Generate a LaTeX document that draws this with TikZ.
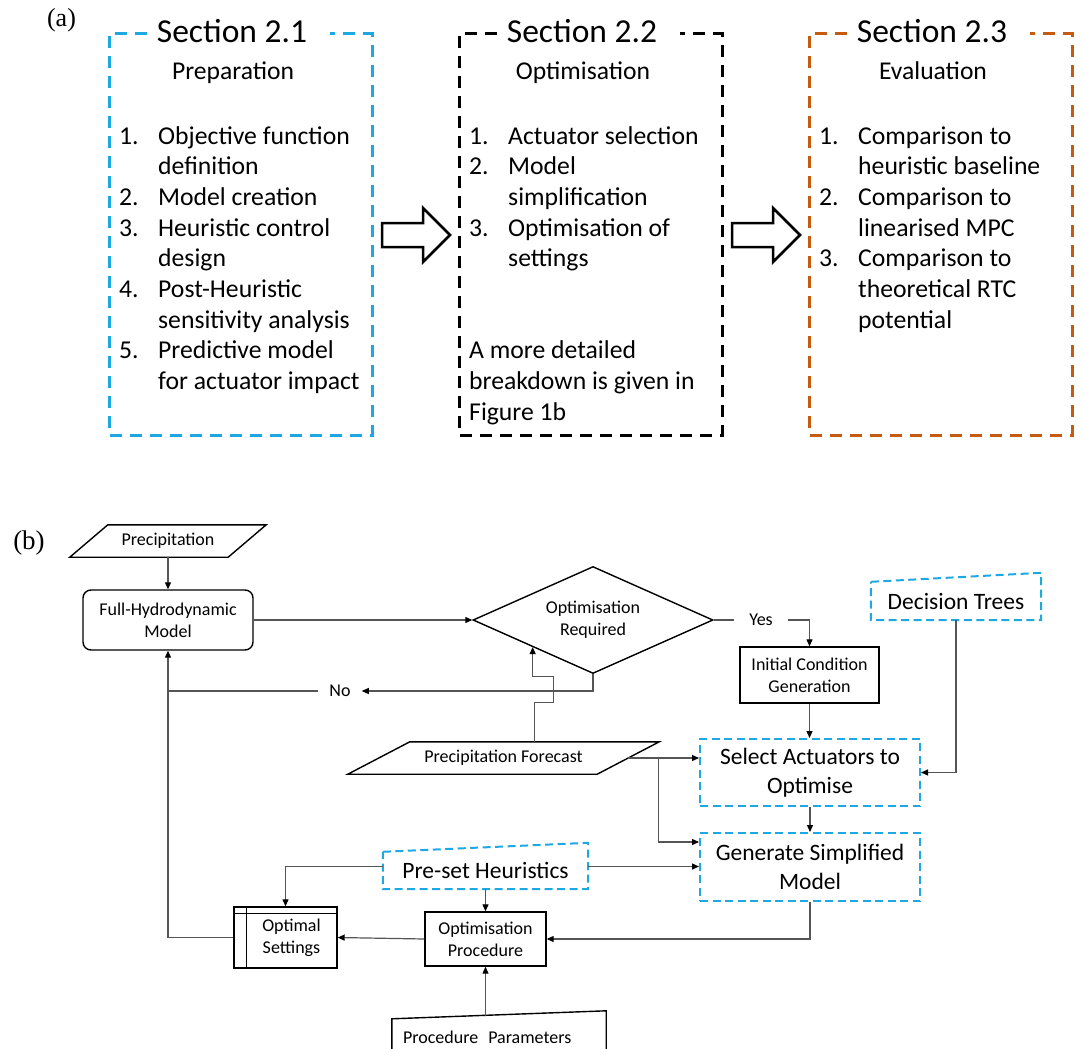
\documentclass[tikz,border=0pt]{standalone}
\usepackage{fontspec}
\setmainfont{Carlito}
\newfontfamily\labelfont{Liberation Serif}
\usetikzlibrary{shapes.geometric,arrows.meta}
\definecolor{secblue}{RGB}{30,168,226}
\definecolor{secorange}{RGB}{197,90,17}
\definecolor{lnk}{RGB}{85,85,85}
\tikzset{
  small/.style={font=\fontsize{18}{22}\selectfont},
  large/.style={font=\fontsize{23.5}{29}\selectfont},
  txt/.style={inner sep=0pt,align=center},
  outl/.style={draw=black,line width=1.4pt},
  plain/.style={txt,outl,small},
  bluedash/.style={draw=secblue,line width=2pt,dash pattern=on 8pt off 4.5pt},
  bluebox/.style={txt,bluedash,large},
  link/.style={draw=lnk,line width=1.2pt},
  conn/.style={link,-{Triangle[length=7pt,width=6pt,color=black]}},
  secline/.style={line width=3pt,dash pattern=on 12pt off 8pt},
  sectitle/.style={inner sep=0pt,anchor=base,font=\fontsize{33.5}{36}\selectfont},
  secsub/.style={inner sep=0pt,anchor=base,font=\fontsize{25.6}{30}\selectfont},
  seclist/.style={inner sep=0pt,anchor=base west,font=\fontsize{25.7}{30.7}\selectfont},
  blockarrow/.style={draw=black,line width=2.5pt,fill=white,line join=miter},
}
\begin{document}
\begin{tikzpicture}[x=1pt,y=-1pt]
\path[use as bounding box] (0,0) rectangle (1084,1049);
\node[font=\labelfont\fontsize{26}{30}\selectfont] (lbla) at (61.5,20) {(a)};
\foreach \bx/\col/\num/\sub in {109/secblue/1/Preparation,459/black/2/Optimisation,809/secorange/3/Evaluation} {
  \draw[secline,draw=\col] (\bx+38,34) -- (\bx,34) -- (\bx,435) -- (\bx+263,435) -- (\bx+263,34) -- (\bx+221,34);
  \node[sectitle] (sec\num) at (\bx+123,43) {Section 2.\num};
  \node[secsub] (sub\num) at (\bx+124,79) {\sub};
}
\node[seclist] (list1) at (119,144) {\begin{tabular}[t]{@{}p{39pt}@{}l@{}}
1. & Objective function\\
 & definition\\
2. & Model creation\\
3. & Heuristic control\\
 & design\\
4. & Post-Heuristic\\
 & sensitivity analysis\\
5. & Predictive model\\
 & for actuator impact
\end{tabular}};
\node[seclist] (list2) at (469,144) {\begin{tabular}[t]{@{}p{39pt}@{}l@{}}
1. & Actuator selection\\
2. & Model\\
 & simplification\\
3. & Optimisation of\\
 & settings\\
\\
\\
\multicolumn{2}{@{}l@{}}{A more detailed}\\
\multicolumn{2}{@{}l@{}}{breakdown is given in}\\
\multicolumn{2}{@{}l@{}}{Figure 1b}
\end{tabular}};
\node[seclist] (list3) at (819,144) {\begin{tabular}[t]{@{}p{39pt}@{}l@{}}
1. & Comparison to\\
 & heuristic baseline\\
2. & Comparison to\\
 & linearised MPC\\
3. & Comparison to\\
 & theoretical RTC\\
 & potential
\end{tabular}};
\foreach \ax in {382,732}
  \draw[blockarrow] (\ax,223) -- (\ax+41,223) -- (\ax+41,208) -- (\ax+68,235)
    -- (\ax+41,262) -- (\ax+41,247) -- (\ax,247) -- cycle;

\node[font=\labelfont\fontsize{27}{30}\selectfont] (lblb) at (29,543) {(b)};
\node[txt,small,minimum width=158pt,minimum height=32pt] (precip) at (168,541) {Precipitation};
\node[plain,rounded corners=8pt,minimum width=170pt,minimum height=60pt] (fullhydro) at (168,620) {Full-Hydrodynamic\\Model};
\node[plain,diamond,minimum width=240pt,minimum height=107pt,aspect=2.24] (optreq) at (593,620) {Optimisation\\Required};
\node[txt,small,inner xsep=15pt] (yes) at (761,620) {Yes};
\node[txt,small,inner xsep=11pt] (no) at (340,691) {No};
\node[plain,minimum width=139pt,minimum height=56pt] (initcond) at (809.5,675) {Initial Condition\\Generation};
\node[txt,large,minimum width=170pt,minimum height=38pt] (dectrees) at (956,601) {Decision Trees};
\node[txt,small,minimum width=249pt,minimum height=32pt] (forecast) at (503.5,758) {Precipitation Forecast};
\node[bluebox,minimum width=220pt,minimum height=67pt] (select) at (810,772.5) {Select Actuators to\\Optimise};
\node[bluebox,minimum width=220pt,minimum height=68pt] (generate) at (810,867) {Generate Simplified\\Model};
\node[txt,large,minimum width=205pt,minimum height=37pt] (preset) at (485.5,870.5) {Pre-set Heuristics};
\node[plain,minimum width=103pt,minimum height=61pt] (optset) at (285.5,937.5) {\hspace*{12pt}Optimal\\\hspace*{12pt}Settings};
\node[plain,minimum width=121pt,minimum height=54pt] (optproc) at (485.5,939) {Optimisation\\Procedure};
\node[txt,small,minimum width=214pt,minimum height=36pt,text width=192pt,align=left] (procpar) at (499,1037) {Procedure\hspace{4pt} Parameters};

\draw[outl] ([xshift=19pt]precip.north west) -- ([xshift=19pt]precip.north east)
  -- ([xshift=-19pt]precip.south east) -- ([xshift=-19pt]precip.south west) -- cycle;
\draw[outl] ([xshift=31pt]forecast.north west) -- ([xshift=31pt]forecast.north east)
  -- ([xshift=-31pt]forecast.south east) -- ([xshift=-31pt]forecast.south west) -- cycle;
\draw[bluedash] (dectrees.north west) -- ([yshift=9pt]dectrees.north east) -- (dectrees.south east) -- (dectrees.south west) -- cycle;
\draw[bluedash] (preset.north west) -- ([yshift=9pt]preset.north east) -- (preset.south east) -- (preset.south west) -- cycle;
\draw[outl] (procpar.south west) -- (procpar.north west) -- ([yshift=8pt]procpar.north east) -- (procpar.south east);
\draw[outl] ([yshift=-7pt]optset.north west) -- ([yshift=-7pt]optset.north east)
  ([xshift=13pt]optset.north west) -- ([xshift=13pt]optset.south west);

\coordinate (fcjoin) at ([xshift=30pt]forecast.east);
\coordinate (psleft) at ([yshift=4pt]preset.west);
\coordinate (psright) at ([yshift=4pt]preset.east);
\coordinate (pptop) at (optproc.south |- 0,1015.5);
\draw[conn] (precip.south) -- (fullhydro.north);
\draw[conn] (fullhydro.east) -- (optreq.west);
\draw[link] (optreq.east) -- (yes.west);
\draw[conn] (yes.east) -| (initcond.north);
\draw[conn] (initcond.south) -- (initcond.south |- select.north);
\draw[conn] (dectrees.south) |- (select.east);
\draw[conn] (optreq.south) |- (no.east);
\draw[link] (no.west) -- (no.west -| fullhydro.south);
\draw[conn] ([xshift=31pt]forecast.north) -- ++(0,-39) -- ++(19,0) -- ++(0,-26) -| (optreq.south west);
\draw[conn] (forecast.east) -- (forecast.east -| select.west);
\draw[conn] (fcjoin) |- ([yshift=25pt]generate.west);
\draw[conn] (select.south) -- (generate.north);
\draw[conn] (psright) -- (psright -| generate.west);
\draw[conn] (psleft) -| (optset.north);
\draw[conn] (preset.south) -- (optproc.north);
\draw[conn] (generate.south) |- (optproc.east);
\draw[conn] (optproc.west) -- (optset.east);
\draw[conn] (optset.west) -| (fullhydro.south);
\draw[conn] (pptop) -- (optproc.south);
\end{tikzpicture}
\end{document}
